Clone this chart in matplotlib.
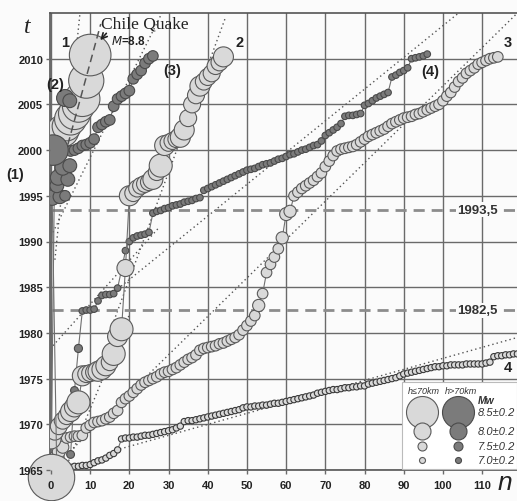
import numpy as np
import matplotlib.pyplot as plt
from matplotlib.patches import Rectangle

plt.rcParams['font.family'] = ['Liberation Sans', 'DejaVu Sans']

# marker radius (px) for a magnitude
mag_key = [7.0, 7.5, 8.0, 8.5, 9.0]
rad_key = [3.0, 4.5, 8.5, 16.0, 24.0]

# ---- series 1 (h<=70km, M~8.5) ----
s1_n = [0, 1, 2, 3, 4, 5, 6, 7, 8, 9, 10]
s1_t = [1964.2, 2001.2, 2001.6, 2002.1, 2002.6, 2003.4, 2004.0, 2004.8, 2005.6, 2007.6, 2010.4]
s1_m = [8.95, 8.4, 8.4, 8.5, 8.4, 8.5, 8.5, 8.5, 8.6, 8.6, 8.8]

# ---- series 2 (h<=70km, M~8.0), n = 0..44 ----
s2_t = [1968.4, 1969.2, 1969.8, 1970.4, 1970.9, 1971.4, 1971.9, 1972.4, 1975.3, 1975.5,
        1975.6, 1975.7, 1975.8, 1976.0, 1976.4, 1976.8, 1977.7, 1979.6, 1980.4, 1987.1,
        1995.0, 1995.3, 1995.8, 1996.1, 1996.3, 1996.5, 1996.8, 1997.6, 1998.3, 2000.5,
        2000.8, 2001.0, 2001.2, 2001.4, 2002.2, 2003.5, 2005.0, 2006.0, 2007.0, 2007.5,
        2008.0, 2008.4, 2009.2, 2009.6, 2010.2]
s2_m = [8.1, 8.0, 8.0, 8.0, 8.0, 8.1, 8.1, 8.2, 8.1, 8.0,
        8.0, 8.0, 8.1, 8.1, 8.1, 8.0, 8.2, 8.1, 8.2, 8.0,
        8.1, 8.0, 8.0, 8.0, 8.0, 8.0, 8.1, 8.0, 8.2, 8.1,
        8.0, 8.0, 8.0, 8.1, 8.1, 8.0, 8.0, 8.0, 8.1, 8.0,
        8.0, 8.0, 8.0, 8.0, 8.1]

# ---- series 3 (h<=70km, M~7.5), n = 1..114 ----
s3_t = [1966.3, 1967.0, 1967.5, 1968.5, 1968.6, 1968.7, 1968.7, 1968.8, 1969.6, 1969.9,
        1970.2, 1970.3, 1970.4, 1970.6, 1970.8, 1971.2, 1971.5, 1972.4, 1972.8, 1973.1,
        1973.5, 1973.9, 1974.3, 1974.6, 1974.8, 1975.0, 1975.2, 1975.5, 1975.7, 1975.8,
        1976.0, 1976.2, 1976.5, 1976.8, 1977.1, 1977.3, 1977.6, 1978.1, 1978.3, 1978.4,
        1978.5, 1978.6, 1978.8, 1978.9, 1979.1, 1979.3, 1979.5, 1979.8, 1980.3, 1980.8,
        1981.3, 1981.9, 1983.0, 1984.3, 1986.6, 1987.5, 1988.3, 1989.2, 1990.4, 1993.0,
        1993.3, 1995.0, 1995.4, 1995.8, 1996.1, 1996.4, 1996.7, 1997.1, 1997.5, 1998.2,
        1998.8, 1999.4, 1999.9, 2000.1, 2000.2, 2000.3, 2000.4, 2000.6, 2000.9, 2001.2,
        2001.5, 2001.7, 2001.9, 2002.1, 2002.3, 2002.6, 2002.9, 2003.1, 2003.3, 2003.5,
        2003.6, 2003.7, 2003.9, 2004.0, 2004.2, 2004.4, 2004.6, 2004.8, 2005.0, 2005.4,
        2005.9, 2006.3, 2006.9, 2007.5, 2007.9, 2008.4, 2008.7, 2009.0, 2009.4, 2009.6,
        2009.8, 2010.0, 2010.1, 2010.2]
s3_mag = 7.6
s3_big = {1: 7.75, 2: 7.75, 3: 7.7, 53: 7.7, 59: 7.7, 60: 7.75, 61: 7.7}

# ---- series 4 (h<=70km, M~7.0), n = 1..119 ----
s4_t = [1965.0, 1965.1, 1965.2, 1965.3, 1965.3, 1965.4, 1965.4, 1965.5, 1965.5, 1965.6,
        1965.8, 1966.0, 1966.1, 1966.3, 1966.6, 1966.8, 1967.2, 1968.4, 1968.5, 1968.5,
        1968.6, 1968.6, 1968.7, 1968.8, 1968.8, 1968.9, 1969.0, 1969.1, 1969.2, 1969.3,
        1969.4, 1969.6, 1969.8, 1970.3, 1970.4, 1970.4, 1970.5, 1970.6, 1970.7, 1970.8,
        1970.9, 1971.0, 1971.1, 1971.2, 1971.3, 1971.4, 1971.5, 1971.6, 1971.8, 1971.9,
        1971.9, 1972.0, 1972.0, 1972.1, 1972.1, 1972.2, 1972.3, 1972.3, 1972.4, 1972.5,
        1972.6, 1972.7, 1972.8, 1972.9, 1973.0, 1973.1, 1973.2, 1973.4, 1973.5, 1973.6,
        1973.7, 1973.8, 1973.8, 1973.9, 1974.0, 1974.0, 1974.1, 1974.1, 1974.2, 1974.2,
        1974.4, 1974.5, 1974.6, 1974.7, 1974.8, 1974.9, 1975.0, 1975.1, 1975.3, 1975.5,
        1975.6, 1975.7, 1975.8, 1975.9, 1976.0, 1976.1, 1976.2, 1976.3, 1976.3, 1976.4,
        1976.4, 1976.5, 1976.5, 1976.5, 1976.5, 1976.6, 1976.6, 1976.6, 1976.6, 1976.6,
        1976.7, 1976.8, 1977.4, 1977.5, 1977.5, 1977.6, 1977.6, 1977.7, 1977.7]
s4_mag = 7.05

# ---- deep (h>70km) groups ----
d1_n = [1.5, 0.3, 2.3, 3.6, 1.5, 1.8, 4.3, 3.0, 4.8, 0.5]
d1_t = [1964.5, 1994.8, 1994.9, 1995.0, 1996.1, 1997.0, 1996.8, 1998.1, 1998.3, 2000.0]
d1_m = [7.9, 7.9, 7.8, 7.6, 7.8, 7.9, 7.8, 7.9, 7.8, 8.45]

d2_n = [3.6, 4.8]
d2_t = [2005.7, 2005.4]
d2_m = [8.0, 7.8]

# (3): n = 5..26
d3_t = [1999.9, 2000.0, 2000.2, 2000.5, 2000.6, 2000.8, 2001.2, 2002.5, 2002.8, 2003.1,
        2003.3, 2004.8, 2005.6, 2005.9, 2006.2, 2006.5, 2007.8, 2008.3, 2008.7, 2009.5,
        2010.0, 2010.3]
d3_mag = 7.6

# (4): n = 5..96
d4_t = [1966.7, 1973.7, 1978.3, 1982.4, 1982.5, 1982.5, 1982.6, 1983.5, 1984.1, 1984.2,
        1984.2, 1984.3, 1984.9, 1986.9, 1989.0, 1990.0, 1990.4, 1990.6, 1990.7, 1990.8,
        1991.0, 1993.1, 1993.3, 1993.4, 1993.6, 1993.7, 1993.9, 1994.0, 1994.1, 1994.3,
        1994.4, 1994.5, 1994.7, 1994.8, 1995.6, 1995.8, 1996.0, 1996.2, 1996.4, 1996.6,
        1996.8, 1997.0, 1997.2, 1997.4, 1997.6, 1997.8, 1997.9, 1998.0, 1998.2, 1998.4,
        1998.5, 1998.6, 1998.8, 1999.0, 1999.1, 1999.3, 1999.5, 1999.6, 1999.8, 2000.0,
        2000.1, 2000.3, 2000.5, 2000.6, 2001.0, 2001.6, 2001.9, 2002.2, 2002.5, 2002.9,
        2003.7, 2003.8, 2003.8, 2003.9, 2004.0, 2004.9, 2005.1, 2005.4, 2005.7, 2005.9,
        2006.1, 2006.3, 2008.0, 2008.2, 2008.5, 2008.7, 2009.0, 2010.0, 2010.1, 2010.2,
        2010.3, 2010.5]
d4_mag = 7.1
d4_big = {5: 7.3, 6: 7.3, 7: 7.35}

# dotted trend lines (n0, t0, n1, t1)
trend_lines = [
    (1.0, 1988.0, 7.4, 2015.0),
    (0.5, 1991.0, 28.3, 2015.0),
    (14.5, 1979.5, 44.6, 2014.6),
    (0.5, 1978.6, 27.5, 1991.5),
    (17.0, 1984.8, 104.0, 2015.0),
    (0.0, 1965.0, 119.0, 2015.0),
    (17.6, 1967.3, 119.0, 1979.5),
    (4.5, 1966.0, 20.0, 1982.0),
]
# long dashed line through series 1
s1_trend = (4.3, 2000.6, 12.7, 2013.8)

h_levels = [1993.5, 1982.5]
h_labels = ['1993,5', '1982,5']

legend_mags = [8.5, 8.0, 7.5, 7.0]
legend_labels = ['8.5±0.2', '8.0±0.2', '7.5±0.2', '7.0±0.2']

x_ticks = list(range(0, 120, 10))
y_ticks = list(range(1965, 2015, 5))


def msize(m):
    r = np.interp(m, mag_key, rad_key)
    return (2 * r * 0.72) ** 2


LIGHT, LIGHT_EDGE = '#d9d9d9', '#5a5a5a'
DARK, DARK_EDGE = '#7b7b7b', '#4a4a4a'
LINE = '#707070'
GRID = '#6a6a6a'

fig = plt.figure(figsize=(5.17, 5.02), dpi=100)
fig.patch.set_facecolor('#fbfbfb')
ax = fig.add_axes([50 / 517, 31 / 502, 467 / 517, 457 / 502])
ax.set_facecolor('#fbfbfb')
ax.set_xlim(-0.25, 118.9)
ax.set_ylim(1965, 2015)

# grid drawn by hand so the tick labels can sit above the markers
for x in x_ticks:
    ax.axvline(x, color=GRID, lw=1.0, zorder=0.5)
for y in y_ticks:
    ax.axhline(y, color=GRID, lw=1.0, zorder=0.5)

for n0, t0, n1, t1 in trend_lines:
    ax.plot([n0, n1], [t0, t1], color='#555555', lw=1.0, ls=(0, (1, 2.2)), zorder=1)

for lev, lab in zip(h_levels, h_labels):
    ax.plot([0.3, 119], [lev, lev], color='#8c8c8c', lw=2.0, ls=(0, (4, 2.5)), zorder=1.2)
    ax.text(108.9, lev, lab, fontsize=9.5, fontweight='bold', color='#333333',
            ha='center', va='center', zorder=1.3,
            bbox=dict(facecolor='#fbfbfb', edgecolor='none', pad=1.0))


def draw_series(n, t, m, fill, edge, z, clip=True):
    ax.plot(n, t, color=LINE, lw=0.8, zorder=z)
    ax.scatter(n, t, s=[msize(v) for v in m], facecolor=fill, edgecolor=edge,
               linewidths=0.8, zorder=z + 0.1, clip_on=clip)


s2_n = np.arange(len(s2_t))
s3_n = np.arange(1, len(s3_t) + 1)
s3_m = [s3_big.get(k, s3_mag) for k in s3_n]
s4_n = np.arange(1, len(s4_t) + 1)
s4_m = [s4_mag] * len(s4_t)
d3_n = np.arange(5, 5 + len(d3_t))
d3_m = [d3_mag] * len(d3_t)
d4_n = np.arange(5, 5 + len(d4_t))
d4_m = [d4_big.get(k, d4_mag) for k in d4_n]

draw_series(s4_n, s4_t, s4_m, LIGHT, '#3a3a3a', 2.0)
draw_series(s3_n, s3_t, s3_m, LIGHT, LIGHT_EDGE, 2.2)
draw_series(d4_n, d4_t, d4_m, DARK, DARK_EDGE, 2.4)
draw_series(s2_n, s2_t, s2_m, LIGHT, LIGHT_EDGE, 2.6)
draw_series(s1_n[1:], s1_t[1:], s1_m[1:], LIGHT, LIGHT_EDGE, 2.8)
ax.plot(s1_n[:2], s1_t[:2], color=LINE, lw=0.8, zorder=1.9)
ax.scatter(s1_n[:1], s1_t[:1], s=msize(s1_m[0]), facecolor=LIGHT, edgecolor=LIGHT_EDGE,
           linewidths=0.8, zorder=3.5, clip_on=False)
ax.plot([s1_trend[0], s1_trend[2]], [s1_trend[1], s1_trend[3]], color='#555555',
        lw=1.1, ls=(0, (5, 3)), zorder=3.0)
draw_series(d3_n, d3_t, d3_m, DARK, DARK_EDGE, 3.1)
draw_series(d1_n, d1_t, d1_m, DARK, DARK_EDGE, 3.3)
draw_series(d2_n, d2_t, d2_m, DARK, DARK_EDGE, 3.3)

# labels of the sequences
lab_kw = dict(fontsize=10.5, fontweight='bold', color='#222222', ha='center', va='center', zorder=7)
ax.text(3.6, 2011.8, '1', **lab_kw)
ax.text(48.2, 2011.8, '2', **lab_kw)
ax.text(116.6, 2011.8, '3', **lab_kw)
ax.text(116.6, 1976.3, '4', **lab_kw)
ax.text(-9.2, 1997.4, '(1)', clip_on=False, **lab_kw)
ax.text(1.0, 2007.2, '(2)', **lab_kw)
ax.text(30.9, 2008.8, '(3)', **lab_kw)
ax.text(96.7, 2008.7, '(4)', **lab_kw)

ax.text(12.8, 2013.8, 'Chile Quake', family='Liberation Serif', fontsize=12.5,
        color='#222222', ha='left', va='center', zorder=7)
ax.text(15.3, 2012.0, '$\\it{M}$=8.8', fontsize=8.5, fontweight='bold',
        color='#222222', ha='left', va='center', zorder=7)
ax.annotate('', xy=(12.1, 2011.8), xytext=(14.6, 2013.0),
            arrowprops=dict(arrowstyle='->', color='#222222', lw=1.2), zorder=7)

# legend box
ax.add_patch(Rectangle((0.754, 0.003), 0.246, 0.19, transform=ax.transAxes,
                       facecolor='white', edgecolor='#bbbbbb', lw=0.8, zorder=6))
leg_y = [0.127, 0.085, 0.0525, 0.022]
for m, y, lab in zip(legend_mags, leg_y, legend_labels):
    ax.scatter([0.797], [y], s=msize(m), facecolor=LIGHT, edgecolor=LIGHT_EDGE,
               linewidths=0.8, transform=ax.transAxes, zorder=6.2)
    ax.scatter([0.874], [y], s=msize(m), facecolor=DARK, edgecolor=DARK_EDGE,
               linewidths=0.8, transform=ax.transAxes, zorder=6.2)
    ax.text(0.916, y, lab, transform=ax.transAxes, fontsize=8, style='italic',
            color='#333333', ha='left', va='center', zorder=6.5)
ax.text(0.800, 0.174, 'h≤70km', transform=ax.transAxes, fontsize=6.5, style='italic',
        color='#333333', ha='center', va='center', zorder=6.5)
ax.text(0.880, 0.174, 'h>70km', transform=ax.transAxes, fontsize=6.5, style='italic',
        color='#333333', ha='center', va='center', zorder=6.5)
ax.text(0.935, 0.153, 'Mw', transform=ax.transAxes, fontsize=7.5, style='italic',
        fontweight='bold', color='#333333', ha='center', va='center', zorder=6.5)

# axes, ticks
ax.set_xticks(x_ticks)
ax.set_yticks(y_ticks)
ax.tick_params(axis='both', length=3, width=1.0, color=GRID, labelsize=8, pad=2)
for lab in ax.get_xticklabels() + ax.get_yticklabels():
    lab.set_fontweight('bold')
    lab.set_color('#222222')
ax.tick_params(axis='x', pad=4)
ax.xaxis.set_zorder(8)
ax.yaxis.set_zorder(8)
for side in ['left', 'bottom', 'top']:
    ax.spines[side].set_color('#555555')
    ax.spines[side].set_linewidth(1.2)
ax.spines['right'].set_visible(False)

fig.text(0.052, 0.945, 't', family='Liberation Serif', style='italic', fontsize=17,
         color='#222222', ha='center', va='center')
fig.text(0.977, 0.038, 'n', style='italic', fontsize=19, color='#222222',
         ha='center', va='center')

fig.savefig('out.png', dpi=100)
